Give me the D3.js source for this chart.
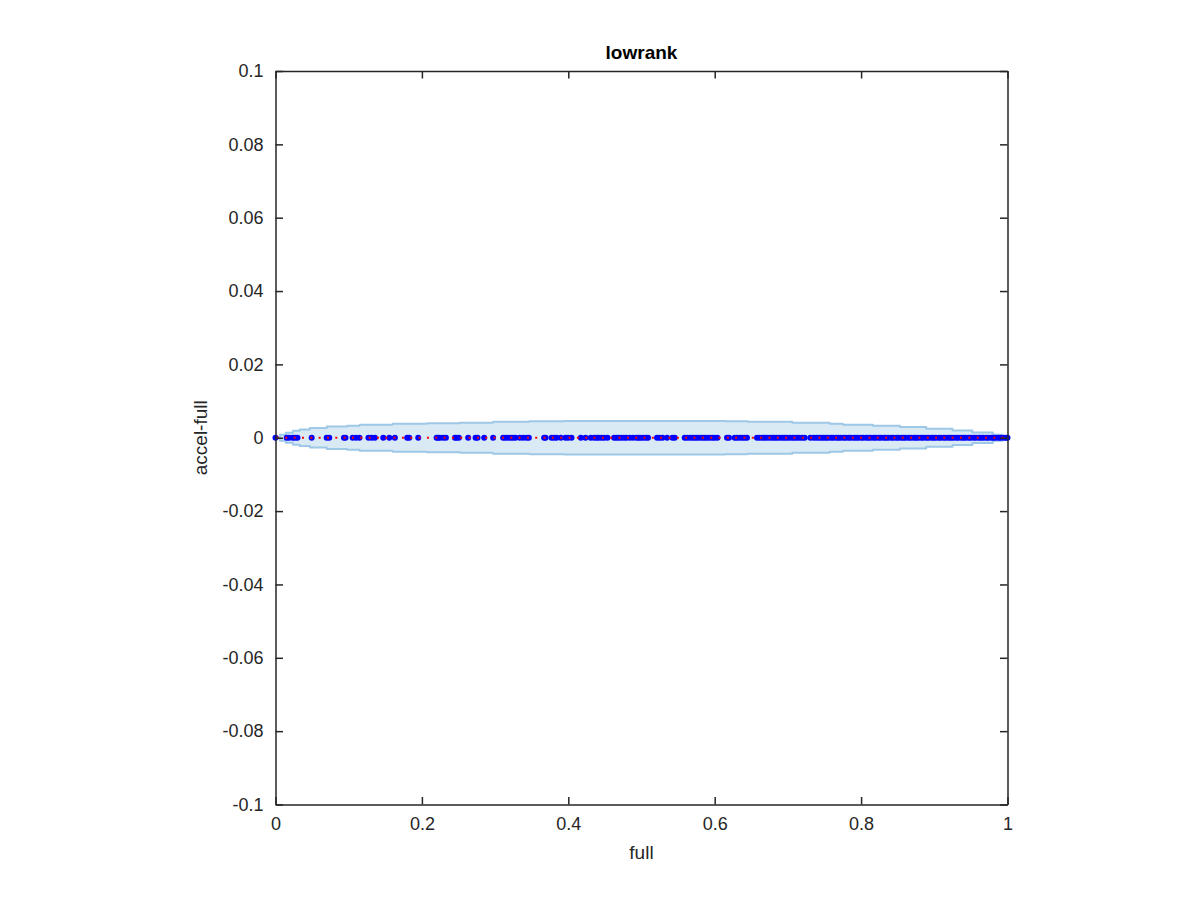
<!DOCTYPE html>
<html>
<head>
<meta charset="utf-8">
<script src="https://cdn.jsdelivr.net/npm/d3@7"></script>
<style>
  html, body { margin: 0; padding: 0; background: #ffffff; }
  svg { display: block; }
  text { font-family: "Liberation Sans", Arial, Helvetica, sans-serif; }
</style>
</head>
<body>
<svg id="chart" width="1200" height="900"></svg>
<script>
// ---- data ----
const title = "lowrank";
const xLabel = "full";
const yLabel = "accel-full";
const xTicks = [0, 0.2, 0.4, 0.6, 0.8, 1];
const xTickLabels = ["0", "0.2", "0.4", "0.6", "0.8", "1"];
const yTicks = [-0.1, -0.08, -0.06, -0.04, -0.02, 0, 0.02, 0.04, 0.06, 0.08, 0.1];
const yTickLabels = ["-0.1", "-0.08", "-0.06", "-0.04", "-0.02", "0", "0.02", "0.04", "0.06", "0.08", "0.1"];

// band (step envelope) : x positions and half widths
const bandX = [0, 0.006, 0.014, 0.024, 0.033, 0.047, 0.070, 0.098, 0.115, 0.160, 0.207, 0.252, 0.297, 0.347, 0.395, 0.511, 0.614, 0.645, 0.706, 0.757, 0.775, 0.816, 0.853, 0.889, 0.925, 0.952, 0.980, 0.993, 1.0];
const bandHalf = [0, 0.00082, 0.00136, 0.0019, 0.00227, 0.00265, 0.00306, 0.00328, 0.00355, 0.00382, 0.00396, 0.0041, 0.00437, 0.0045, 0.00459, 0.00459, 0.0045, 0.00437, 0.0041, 0.00382, 0.00355, 0.00328, 0.00292, 0.00246, 0.00199, 0.00145, 0.00082, 0.00041, 0];

// points: x = full, y = accel - full (all read as 0)
const pointsFull = [
  0.0, 0.0153, 0.0184, 0.0235, 0.0266, 0.030, 0.0494, 0.0699, 0.0734, 0.0935, 0.0956, 0.1054, 0.1099, 0.1147,
  0.127, 0.1313, 0.1358, 0.1472, 0.1554, 0.1631, 0.1799, 0.1827, 0.195, 0.2201, 0.2222, 0.2246, 0.2291, 0.2328, 0.2451,
  0.2474, 0.2505, 0.2632, 0.2733, 0.276, 0.2851, 0.2973, 0.311, 0.3143, 0.3178, 0.3215, 0.3246, 0.3279, 0.3338,
  0.3383, 0.3429, 0.3461, 0.367, 0.3689, 0.3771, 0.3806, 0.3839, 0.3898, 0.3962, 0.3997, 0.4044, 0.4171, 0.4235,
  0.4307, 0.4352, 0.4385, 0.4416, 0.4453, 0.4489, 0.4535, 0.4625, 0.4658, 0.4689, 0.4726, 0.4762, 0.4795, 0.484,
  0.4885, 0.4931, 0.4962, 0.4986, 0.5021, 0.5058, 0.5089, 0.5212, 0.5249, 0.5286, 0.5349, 0.5423, 0.5454, 0.559,
  0.5622, 0.5659, 0.5696, 0.5727, 0.5758, 0.5795, 0.5832, 0.5863, 0.5895, 0.5932, 0.5969, 0.6, 0.6037, 0.6168,
  0.6195, 0.6273, 0.6304, 0.6341, 0.6378, 0.641, 0.6441, 0.6578, 0.6614, 0.6651, 0.6683, 0.6714, 0.6751, 0.6788,
  0.6819, 0.685, 0.6887, 0.6924, 0.6956, 0.6987, 0.7024, 0.7061, 0.7092, 0.7124, 0.716, 0.7197, 0.7229, 0.7307,
  0.7352, 0.7389, 0.7424, 0.7457, 0.7488,
  0.752, 0.755, 0.759, 0.762, 0.766, 0.769, 0.772, 0.776, 0.779, 0.783, 0.786, 0.790, 0.793, 0.796, 0.800, 0.803,
  0.807, 0.810, 0.813, 0.817, 0.820, 0.824, 0.827, 0.831, 0.834, 0.837, 0.841, 0.844, 0.848, 0.851, 0.855, 0.858,
  0.861, 0.865, 0.868, 0.872, 0.875, 0.878, 0.882, 0.885, 0.889, 0.892, 0.896, 0.899, 0.902, 0.906, 0.909, 0.913,
  0.916, 0.920, 0.923, 0.926, 0.930, 0.933, 0.937, 0.940, 0.943, 0.947, 0.950, 0.954, 0.957, 0.961, 0.964, 0.967,
  0.971, 0.974, 0.978, 0.981, 0.984, 0.988, 0.991, 0.995, 0.998, 1.0
];
const pointsDiff = 0; // every point sits on accel-full = 0
const refLineX = [0, 1];
const refLineY = [0, 0];

// ---- layout ----
const svg = d3.select("#chart");
const plotLeft = 275.5, plotRight = 1007.5, plotTop = 71, plotBottom = 804.5;
const x = d3.scaleLinear().domain([0, 1]).range([plotLeft, plotRight]);
const y = d3.scaleLinear().domain([-0.1, 0.1]).range([plotBottom, plotTop]);
const axisColor = "#262626";

// band
const bandData = bandX.map((v, i) => ({ x: v, h: bandHalf[i] }));
const area = d3.area().x(d => x(d.x)).y0(d => y(-d.h)).y1(d => y(d.h)).curve(d3.curveStepAfter);
svg.append("path").datum(bandData).attr("d", area)
  .attr("fill", "#d9eaf5").attr("stroke", "#9ec8e6").attr("stroke-width", 2).attr("stroke-linejoin", "round");

// points
svg.append("g").selectAll("circle").data(pointsFull).join("circle")
  .attr("cx", d => x(d)).attr("cy", y(pointsDiff)).attr("r", 3).attr("fill", "#0000ff");

// red dotted reference line
const line = d3.line().x(d => x(d[0])).y(d => y(d[1]));
svg.append("path").datum(refLineX.map((v, i) => [v, refLineY[i]])).attr("d", line)
  .attr("fill", "none").attr("stroke", "#ff0000").attr("stroke-width", 2)
  .attr("stroke-dasharray", "2,6.33").attr("stroke-dashoffset", -1.5);

// axes (box with inward ticks)
const tickLen = 7.5;
const gx = svg.append("g").attr("transform", `translate(0,${plotBottom})`)
  .call(d3.axisBottom(x).tickValues(xTicks).tickFormat((d, i) => xTickLabels[i]).tickSizeInner(-tickLen).tickSizeOuter(0).tickPadding(13));
const gxTop = svg.append("g").attr("transform", `translate(0,${plotTop})`)
  .call(d3.axisTop(x).tickValues(xTicks).tickFormat("").tickSizeInner(-tickLen).tickSizeOuter(0));
const gy = svg.append("g").attr("transform", `translate(${plotLeft},0)`)
  .call(d3.axisLeft(y).tickValues(yTicks).tickFormat((d, i) => yTickLabels[i]).tickSizeInner(-tickLen).tickSizeOuter(0).tickPadding(12));
const gyR = svg.append("g").attr("transform", `translate(${plotRight},0)`)
  .call(d3.axisRight(y).tickValues(yTicks).tickFormat("").tickSizeInner(-tickLen).tickSizeOuter(0));

[gx, gxTop, gy, gyR].forEach(g => {
  g.selectAll(".domain").attr("stroke", axisColor).attr("stroke-width", 1.5);
  g.selectAll(".tick line").attr("stroke", axisColor).attr("stroke-width", 1.5);
  g.selectAll("text").attr("fill", axisColor).style("font-size", "18px")
    .style("font-family", "'Liberation Sans', Arial, sans-serif");
});

// title and labels
svg.append("text").attr("x", (plotLeft + plotRight) / 2).attr("y", 59).attr("text-anchor", "middle")
  .style("font-size", "19px").style("font-weight", "bold").attr("fill", "#000").text(title);
svg.append("text").attr("x", (plotLeft + plotRight) / 2).attr("y", 859).attr("text-anchor", "middle")
  .style("font-size", "19px").attr("fill", axisColor).text(xLabel);
svg.append("text").attr("transform", `translate(207,${(plotTop + plotBottom) / 2}) rotate(-90)`).attr("text-anchor", "middle")
  .style("font-size", "19px").attr("fill", axisColor).text(yLabel);
</script>
</body>
</html>
